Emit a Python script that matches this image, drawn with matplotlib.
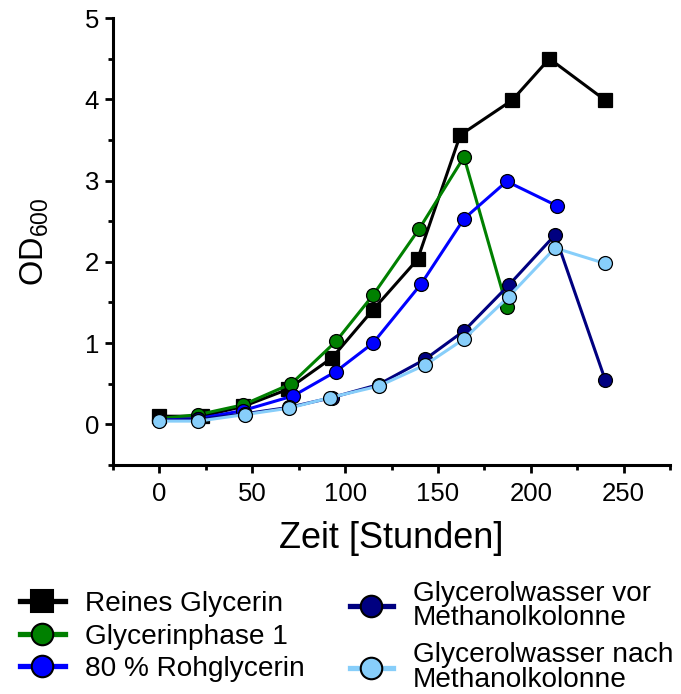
import matplotlib
matplotlib.use("Agg")
import matplotlib.pyplot as plt
from matplotlib.lines import Line2D
from matplotlib.ticker import MultipleLocator

plt.rcParams['font.family'] = ['Liberation Sans', 'DejaVu Sans']
plt.rcParams['mathtext.default'] = 'regular'

# ---- data ----
names = ["Reines Glycerin", "Glycerinphase 1", "80 % Rohglycerin",
         "Glycerolwasser vor\nMethanolkolonne", "Glycerolwasser nach\nMethanolkolonne"]
colors = ["#000000", "#008000", "#0000ff", "#000080", "#87cefa"]
markers = ["s", "o", "o", "o", "o"]

t_reines = [0, 23, 45, 69, 93, 115, 139, 162, 190, 210, 240]
od_reines = [0.10, 0.10, 0.22, 0.43, 0.82, 1.41, 2.03, 3.56, 3.99, 4.50, 3.99]

t_phase1 = [0, 21, 45, 71, 95, 115, 140, 164, 187]
od_phase1 = [0.07, 0.12, 0.24, 0.50, 1.02, 1.59, 2.41, 3.29, 1.45]

t_roh = [0, 21, 45, 72, 95, 115, 141, 164, 187, 214]
od_roh = [0.05, 0.07, 0.17, 0.35, 0.65, 1.00, 1.73, 2.53, 2.99, 2.69]

t_vor = [0, 21, 46, 70, 93, 118, 143, 164, 188, 213, 240]
od_vor = [0.05, 0.06, 0.13, 0.21, 0.33, 0.49, 0.80, 1.15, 1.71, 2.33, 0.55]

t_nach = [0, 21, 46, 70, 92, 118, 143, 164, 188, 213, 240]
od_nach = [0.04, 0.04, 0.12, 0.20, 0.33, 0.47, 0.73, 1.05, 1.57, 2.17, 1.98]

series_t = [t_reines, t_phase1, t_roh, t_vor, t_nach]
series_od = [od_reines, od_phase1, od_roh, od_vor, od_nach]

xticks = [0, 50, 100, 150, 200, 250]
yticks = [0, 1, 2, 3, 4, 5]

# ---- figure ----
fig = plt.figure(figsize=(6.81, 6.94), dpi=100)
ax = fig.add_axes([0.166, 0.33, 0.818, 0.644])

for i, (t, od) in enumerate(zip(series_t, series_od)):
    ms = 10.5 if markers[i] == "s" else 10
    ax.plot(t, od, color=colors[i], lw=2.2, marker=markers[i], ms=ms,
            markerfacecolor=colors[i],
            markeredgecolor="black", markeredgewidth=0.9, zorder=3 + i)

ax.set_xlim(-25, 275)
ax.set_ylim(-0.5, 5)
ax.set_xticks(xticks)
ax.set_yticks(yticks)
ax.xaxis.set_minor_locator(MultipleLocator(25))
ax.yaxis.set_minor_locator(MultipleLocator(0.5))

for s in ["top", "right"]:
    ax.spines[s].set_visible(False)
for s in ["left", "bottom"]:
    ax.spines[s].set_linewidth(2.2)

ax.tick_params(which="major", direction="out", length=6, width=2, labelsize=18.5)
ax.tick_params(axis="x", which="major", pad=6)
ax.tick_params(axis="y", which="major", pad=4)
ax.tick_params(which="minor", direction="out", length=3.5, width=2)

ax.set_xlabel("Zeit [Stunden]", fontsize=26, labelpad=11)
ax.set_ylabel("OD$_{600}$", fontsize=23.5, labelpad=24)

# ---- legends ----
def handle(i):
    return Line2D([], [], color=colors[i], lw=3.8, marker=markers[i], ms=15.5,
                  markerfacecolor=colors[i], markeredgecolor="black",
                  markeredgewidth=1.5)

leg1 = fig.legend([handle(i) for i in range(3)], names[:3],
                  loc="upper left", bbox_to_anchor=(0.029, 0.148),
                  frameon=False, fontsize=20.2, handlelength=1.6,
                  handletextpad=0.72, labelspacing=0.23, borderpad=0,
                  borderaxespad=0)
leg2 = fig.legend([handle(i) for i in range(3, 5)], names[3:],
                  loc="upper left", bbox_to_anchor=(0.514, 0.163),
                  frameon=False, fontsize=20.2, handlelength=1.52,
                  handletextpad=0.72, labelspacing=0.38, borderpad=0,
                  borderaxespad=0)
for txt in leg2.get_texts():
    txt.set_linespacing(0.93)

fig.savefig("out.png", dpi=100)
